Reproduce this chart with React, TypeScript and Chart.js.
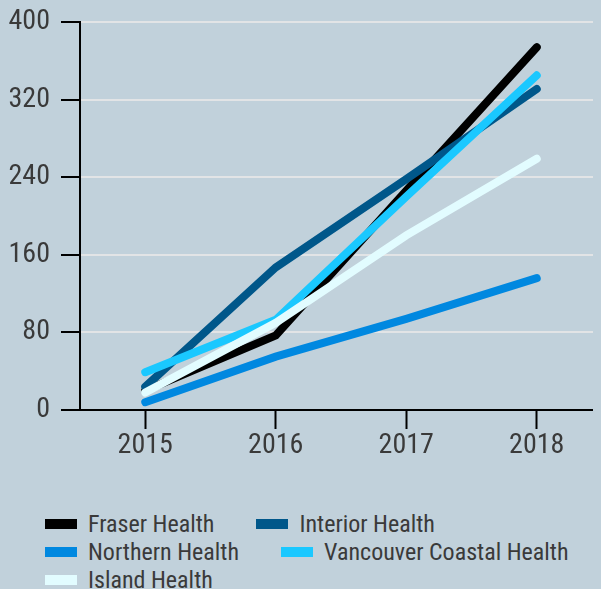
import React, { useEffect, useRef } from "react";
import { Chart, registerables } from "chart.js";

Chart.register(...registerables);

const years = ["2015", "2016", "2017", "2018"];
const seriesNames = [
  "Fraser Health",
  "Interior Health",
  "Northern Health",
  "Vancouver Coastal Health",
  "Island Health",
];
const fraserHealth = [20, 77, 226, 374];
const interiorHealth = [24, 147, 238, 331];
const northernHealth = [8, 55, 94, 136];
const vancouverCoastalHealth = [39, 93, 220, 345];
const islandHealth = [18, 90, 180, 259];
const seriesValues = [fraserHealth, interiorHealth, northernHealth, vancouverCoastalHealth, islandHealth];
const seriesColors = ["#000000", "#00578a", "#0088e0", "#1ac8ff", "#e2fcff"];
const yTickValues = [0, 80, 160, 240, 320, 400];

const BG = "#c1d1db";
const FONT = '"Roboto Condensed", "Liberation Sans Narrow", "DejaVu Sans Condensed", Roboto, sans-serif';
const TEXT = "#3a3a3a";

export default function App() {
  const ref = useRef<HTMLCanvasElement | null>(null);

  useEffect(() => {
    document.body.style.backgroundColor = BG;
    const canvas = ref.current;
    if (!canvas) return;
    const chart = new Chart(canvas, {
      type: "line",
      data: {
        labels: years,
        datasets: seriesNames.map((name, i) => ({
          label: name,
          data: seriesValues[i],
          borderColor: seriesColors[i],
          backgroundColor: seriesColors[i],
          borderWidth: 8,
          borderCapStyle: "round" as const,
          borderJoinStyle: "miter" as const,
          pointRadius: 0,
          pointHoverRadius: 0,
          tension: 0,
          fill: false,
          order: seriesNames.length - i,
        })),
      },
      options: {
        responsive: false,
        animation: false,
        layout: { padding: { top: 14, right: 0, bottom: 0, left: 0 } },
        plugins: { legend: { display: false }, tooltip: { enabled: false } },
        scales: {
          x: {
            type: "category",
            offset: true,
            grid: {
              display: true,
              drawOnChartArea: false,
              drawTicks: true,
              tickLength: 19,
              tickColor: "#000000",
              tickWidth: 2,
              offset: false,
            },
            border: { display: true, color: "#000000", width: 2 },
            ticks: {
              color: TEXT,
              padding: 0,
              font: { family: FONT, size: 28 },
              maxRotation: 0,
            },
            afterFit: (s: any) => {
              s.height = 69;
            },
          },
          y: {
            min: 0,
            max: 400,
            afterBuildTicks: (s: any) => {
              s.ticks = yTickValues.map((v) => ({ value: v }));
            },
            grid: {
              color: "#e2e4e6",
              lineWidth: 2,
              drawTicks: true,
              tickLength: 19,
              tickColor: "#000000",
              tickWidth: 2,
            },
            border: { display: true, color: "#000000", width: 2 },
            ticks: {
              color: TEXT,
              padding: 11,
              font: { family: FONT, size: 28 },
            },
            afterFit: (s: any) => {
              s.width = 72;
              s.paddingTop = 0;
              s.paddingBottom = 0;
            },
          },
        },
      },
    });
    return () => chart.destroy();
  }, []);

  return (
    <div style={{ position: "relative", width: 593, height: 581, overflow: "hidden" }}>
      <canvas ref={ref} width={594} height={471} style={{ display: "block", width: 594, height: 471 }} />
      <div
        style={{
          position: "absolute",
          left: 37,
          top: 502,
          width: 560,
          display: "flex",
          flexWrap: "wrap",
          columnGap: 42,
          fontFamily: FONT,
          fontSize: 24,
          color: TEXT,
          lineHeight: "28px",
        }}
      >
        {seriesNames.map((name, i) => (
          <div key={name} style={{ display: "flex", alignItems: "center", height: 28, whiteSpace: "nowrap" }}>
            <span
              style={{
                display: "inline-block",
                width: 32,
                height: 10,
                background: seriesColors[i],
                marginRight: 11,
              }}
            />
            <span>{name}</span>
          </div>
        ))}
      </div>
    </div>
  );
}
